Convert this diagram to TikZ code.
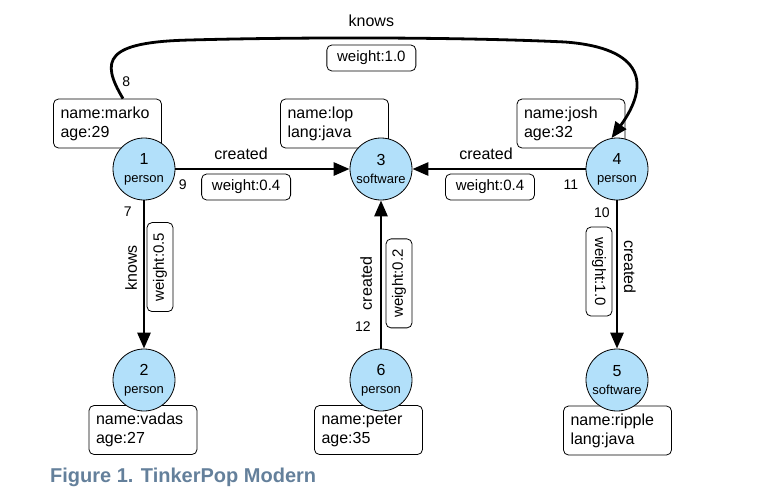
\documentclass[tikz,border=0pt]{standalone}
\usepackage{fontspec}
\setmainfont{Liberation Sans}
\usepackage{xcolor}
\usetikzlibrary{arrows.meta, positioning, calc}
\definecolor{vertexblue}{RGB}{178,224,250}
\definecolor{captiongray}{RGB}{100,128,155}
\tikzset{
	vertex/.style={circle, draw, fill=vertexblue, line width=0.8pt, minimum size=62pt, inner sep=0pt, align=center, font=\fontsize{16}{18}\selectfont},
	props/.style={rectangle, draw, rounded corners=5pt, line width=0.8pt, minimum width=108pt, minimum height=49pt, text width=94pt, inner xsep=7pt, align=left, font=\fontsize{16}{19}\selectfont},
	weightbox/.style={rectangle, draw, rounded corners=5pt, line width=0.8pt, minimum width=89pt, minimum height=26pt, inner sep=0pt, outer sep=5pt, font=\fontsize{15}{18}\selectfont},
	line/.style={draw, line width=2.8pt, -{Triangle[length=16pt, width=13pt]}}
}

\begin{document}
\begin{tikzpicture}[
	x=1pt, y=-1pt,
	elabel/.style={font=\fontsize{16}{19}\selectfont, inner sep=3pt},
	eid/.style={font=\fontsize{14}{16}\selectfont, inner sep=0pt}
	]
	\useasboundingbox (0,0) rectangle (765,496);
	
	% Property boxes (drawn first, vertices sit on top)
	\node[props] (props_marko) at (107.5,123.5) {name:marko\\age:29};
	\node[props] (props_lop) at (334.5,123.5) {name:lop\\lang:java};
	\node[props] (props_josh) at (571,123.5) {name:josh\\age:32};
	\node[props] (props_vadas) at (143,430) {name:vadas\\age:27};
	\node[props] (props_peter) at (368.5,430) {name:peter\\age:35};
	\node[props] (props_ripple) at (617.5,430.5) {name:ripple\\lang:java};
	
	% Vertices
	\node[vertex] (vertex_1) at (144,169) {1\\{\fontsize{13}{15}\selectfont person}};
	\node[vertex] (vertex_2) at (144,380) {2\\{\fontsize{13}{15}\selectfont person}};
	\node[vertex] (vertex_3) at (381,169) {3\\{\fontsize{13}{15}\selectfont software}};
	\node[vertex] (vertex_4) at (617,169) {4\\{\fontsize{13}{15}\selectfont person}};
	\node[vertex] (vertex_5) at (617,380) {5\\{\fontsize{13}{15}\selectfont software}};
	\node[vertex] (vertex_6) at (381,380) {6\\{\fontsize{13}{15}\selectfont person}};
	
	% Horizontal edges into lop
	\draw[line] (vertex_1) -- node[elabel, above=5pt, pos=0.377] {created}
		node[weightbox, below, pos=0.406] {weight:0.4}
		node[eid, at start, anchor=north west, xshift=2pt, yshift=-9pt] {9} (vertex_3);
	\draw[line] (vertex_4) -- node[elabel, above=5pt, pos=0.575] {created}
		node[weightbox, below, pos=0.552] {weight:0.4}
		node[eid, at start, anchor=north east, xshift=-6pt, yshift=-9pt] {11} (vertex_3);
	
	% Vertical edges
	\draw[line] (vertex_1) -- node[elabel, rotate=90, anchor=south, outer sep=4pt, pos=0.456] {knows}
		node[weightbox, rotate=90, anchor=north, outer sep=3pt, pos=0.45] {weight:0.5}
		node[eid, at start, anchor=north east, xshift=-11pt, yshift=-5pt] {7} (vertex_2);
	\draw[line] (vertex_6) -- node[elabel, rotate=90, anchor=south, outer sep=6pt, pos=0.44] {created}
		node[weightbox, rotate=90, anchor=north, pos=0.44] {weight:0.2}
		node[eid, at start, anchor=south east, xshift=-9pt, yshift=16pt] {12} (vertex_3);
	\draw[line] (vertex_4) -- node[elabel, rotate=-90, anchor=south, outer sep=4pt, pos=0.45] {created}
		node[weightbox, rotate=-90, anchor=north, pos=0.48] {weight:1.0}
		node[eid, at start, anchor=north east, xshift=-6pt, yshift=-6pt] {10} (vertex_5);
	
	% marko knows josh, over the top
	\coordinate (knows_start) at ($(props_marko.north)+(15.5,0)$);
	\draw[line] (knows_start)
		node[eid, anchor=south west, xshift=-2pt, yshift=11pt] {8}
		.. controls (100,60) and (105,42) .. (190,40)
		.. controls (300,37) and (460,37) .. (565,42)
		node[elabel, above=7pt, pos=0.48] {knows}
		node[weightbox, below, outer sep=7pt, pos=0.48] {weight:1.0}
		.. controls (645,48) and (650,85) .. (vertex_4.100);
	
	% Caption
	\node[font=\fontsize{20}{24}\selectfont\bfseries, text=captiongray, anchor=base west, inner sep=0pt] (caption) at (50,482) {Figure 1. TinkerPop Modern};
	
\end{tikzpicture}
\end{document}
